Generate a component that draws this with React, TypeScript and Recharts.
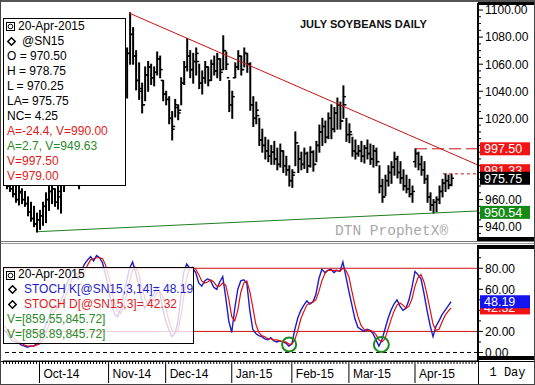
import React from "react";
import {
  Bar,
  ComposedChart,
  Line,
  ReferenceDot,
  ReferenceLine,
  XAxis,
  YAxis,
} from "recharts";

// daily bars, Sep-15-2014 .. Apr-20-2015 (index 0..149)
const HIGH = [
  985, 980, 978, 975, 972, 970, 968, 966, 962, 958, 955, 950, 952, 958, 965, 970, 972, 968, 970, 975,
  985, 995, 1000, 1005, 998, 1002, 1012, 1024, 1036, 1048, 1052, 1060, 1064, 1062, 1056, 1048, 1042, 1046, 1056, 1064,
  1071, 1072, 1098, 1087, 1070, 1061, 1046, 1058, 1062, 1060, 1058, 1069, 1066, 1048, 1040, 1036, 1025, 1034, 1030, 1050,
  1062, 1079, 1070, 1068, 1072, 1060, 1055, 1062, 1058, 1063, 1066, 1068, 1064, 1081, 1069, 1048, 1040, 1061, 1070, 1066,
  1072, 1068, 1061, 1036, 1032, 1020, 1012, 1006, 1004, 1000, 1003, 998, 1001, 996, 992, 985, 982, 1010, 1000, 995,
  998, 995, 999, 996, 1003, 1015, 1020, 1018, 1024, 1030, 1028, 1035, 1032, 1044, 1020, 1016, 1006, 1004, 1000, 1003,
  1000, 1004, 1001, 1000, 998, 985, 975, 978, 985, 988, 995, 992, 988, 982, 978, 975, 970, 997.5, 995, 992,
  988, 978, 965, 960, 962, 970, 975, 979, 978, 978.75,
];
const LOW = [
  972, 968, 966, 962, 958, 956, 957, 955, 948, 944, 940, 936, 938, 941, 943, 952, 957, 955, 953, 950,
  966, 976, 984, 986, 975, 968, 992, 1004, 1016, 1028, 1032, 1040, 1046, 1040, 1032, 1026, 1022, 1024, 1036, 1044,
  1038, 1035, 1060, 1060, 1041, 1034, 1024, 1033, 1040, 1045, 1044, 1052, 1050, 1033, 1030, 1016, 1004, 1021, 1019, 1030,
  1045, 1055, 1050, 1046, 1052, 1042, 1038, 1046, 1044, 1048, 1052, 1050, 1048, 1056, 1056, 1025, 1020, 1050, 1056, 1052,
  1058, 1054, 1026, 1014, 1016, 1000, 995, 990, 988, 986, 986, 982, 984, 980, 978, 970, 969, 985, 980, 982,
  983, 980, 984, 981, 988, 995, 1000, 1002, 1005, 1005, 1010, 1012, 1012, 1020, 1003, 1002, 992, 990, 992, 988,
  987, 990, 986, 984, 985, 965, 958, 963, 970, 972, 978, 976, 972, 967, 965, 962, 958, 984, 982, 978,
  972, 958, 952, 950, 951, 957, 962, 966, 968, 970.25,
];
const OPEN = [
  982, 975, 970, 968, 964, 960, 965, 960, 957, 951, 946, 942, 945, 948, 955, 960, 966, 968, 958, 962,
  972, 982, 990, 996, 990, 980, 996, 1008, 1020, 1032, 1044, 1040, 1056, 1060, 1044, 1036, 1030, 1026, 1040, 1052,
  1060, 1042, 1068, 1082, 1066, 1048, 1042, 1030, 1052, 1058, 1050, 1054, 1064, 1048, 1038, 1034, 1020, 1014, 1028, 1026,
  1046, 1058, 1066, 1056, 1062, 1062, 1046, 1050, 1058, 1048, 1060, 1055, 1064, 1056, 1070, 1050, 1030, 1050, 1058, 1066,
  1056, 1068, 1060, 1030, 1020, 1022, 1004, 1000, 996, 992, 995, 990, 986, 996, 985, 982, 974, 980, 1002, 990,
  986, 994, 985, 995, 986, 1000, 1010, 1014, 1006, 1020, 1012, 1024, 1030, 1018, 1030, 1008, 1008, 996, 994, 996,
  992, 998, 994, 990, 996, 988, 970, 962, 974, 980, 984, 990, 980, 976, 970, 968, 964, 988, 994, 986,
  982, 975, 962, 956, 958, 960, 966, 972, 974, 970.5,
];
const CLOSE = [
  975, 970, 968, 964, 960, 966, 960, 957, 951, 946, 942, 945, 948, 955, 960, 966, 968, 958, 966, 972,
  982, 990, 996, 990, 980, 996, 1008, 1020, 1032, 1044, 1040, 1056, 1060, 1044, 1036, 1030, 1026, 1040, 1052, 1060,
  1042, 1068, 1082, 1066, 1048, 1040, 1030, 1052, 1058, 1050, 1054, 1064, 1056, 1038, 1034, 1020, 1012, 1030, 1024, 1046,
  1058, 1066, 1056, 1062, 1068, 1046, 1050, 1058, 1048, 1060, 1055, 1064, 1054, 1070, 1060, 1030, 1036, 1058, 1066, 1056,
  1068, 1060, 1030, 1020, 1026, 1004, 1000, 996, 992, 995, 990, 986, 996, 985, 982, 974, 978, 1002, 990, 986,
  994, 985, 995, 986, 1000, 1010, 1014, 1006, 1020, 1012, 1024, 1030, 1018, 1036, 1008, 1010, 996, 994, 996, 992,
  998, 994, 990, 996, 988, 970, 962, 974, 980, 984, 990, 980, 976, 970, 968, 964, 966, 994, 986, 982,
  975, 962, 956, 958, 960, 966, 972, 974, 971, 975.75,
];
const STOCH_K = [
  22, 19, 14, 11, 10, 9, 7, 6, 5, 6, 6, 8, 11, 18, 26, 32, 40, 45, 42, 48,
  55, 64, 72, 78, 74, 70, 78, 84, 88, 91, 87, 92, 90, 85, 74, 60, 46, 36, 34, 42,
  56, 68, 80, 86, 76, 64, 50, 42, 46, 52, 55, 62, 58, 42, 30, 22, 15, 18, 28, 52,
  76, 84, 80, 80, 76, 66, 63, 68, 70, 68, 62, 60, 67, 72, 52, 30, 19, 42, 60, 68,
  69, 66, 40, 22, 18, 16, 15, 13, 12, 14, 11, 10, 11, 10, 9, 6, 8, 22, 33, 40,
  45, 49, 46, 48, 55, 70, 79, 76, 78, 79, 76, 78, 77, 86, 72, 58, 45, 32, 24, 22,
  20, 22, 21, 18, 12, 6, 12, 22, 32, 40, 46, 50, 44, 40, 42, 50, 62, 77, 74, 70,
  56, 40, 26, 15, 25, 30, 36, 40, 44, 48.19,
];
const STOCH_D = [
  26, 23, 18, 15, 12, 10, 9, 7, 6, 6, 6, 7, 8, 12, 18, 25, 33, 39, 42, 45,
  48, 56, 64, 71, 75, 74, 74, 77, 83, 88, 89, 90, 90, 89, 83, 73, 60, 47, 39, 37,
  44, 55, 68, 78, 81, 75, 63, 52, 46, 47, 51, 56, 58, 54, 43, 31, 22, 18, 20, 33,
  52, 71, 80, 81, 79, 74, 68, 66, 67, 69, 67, 63, 63, 66, 64, 51, 34, 30, 40, 57,
  66, 68, 58, 43, 27, 19, 16, 15, 13, 13, 12, 12, 11, 10, 10, 8, 8, 12, 21, 32,
  39, 45, 47, 48, 50, 58, 68, 75, 78, 78, 78, 78, 77, 80, 78, 72, 58, 45, 34, 26,
  22, 21, 21, 20, 17, 12, 10, 13, 22, 31, 39, 45, 47, 45, 42, 44, 51, 63, 71, 74,
  67, 55, 41, 27, 21, 22, 29, 35, 39, 42.32,
];

const MONTH_STARTS = [12, 35, 54, 76, 96, 115, 137];
const MONTH_LABELS = ["Oct-14", "Nov-14", "Dec-14", "Jan-15", "Feb-15", "Mar-15", "Apr-15"];

// labelled axis values (the ones hidden behind flags in the original are left unlabelled)
const PRICE_LABELLED = [940, 960, 1020, 1040, 1060, 1080, 1100];
const PRICE_MARKS = [980, 1000];
const PRICE_FLAGS = [997.5, 950.54, 981.33, 975.75];
const STOCH_LABELLED = [0, 20, 60, 80];
const STOCH_MARKS = [40];
const STOCH_FLAGS = [42.32, 48.19];

const PRICE_LEGEND = ["O = 970.50", "H = 978.75", "L = 970.25", "LA= 975.75", "NC= 4.25"];
const PRICE_NOTES = [
  { text: "A=-24.4, V=990.00", tone: "red" },
  { text: "A=2.7, V=949.63", tone: "green" },
  { text: "V=997.50", tone: "red" },
  { text: "V=979.00", tone: "red" },
];

const RED = "#e01b1b";
const GREEN = "#2a8a2a";
const BLUE = "#1c1cc8";
const FONT = 'Arial, "Liberation Sans", sans-serif';
const MONO = '"Courier New", "Liberation Mono", monospace';

const X_DOMAIN: [number, number] = [-0.15, 157.97];
const AXIS_X = 478;

const days = HIGH.map((h, i) => ({
  i,
  high: h,
  low: LOW[i],
  open: OPEN[i],
  close: CLOSE[i],
  k: STOCH_K[i],
  d: STOCH_D[i],
}));

const priceTicks: number[] = [];
for (let v = 930; v <= 1105; v += 5) {
  if (!PRICE_LABELLED.includes(v) && !PRICE_MARKS.includes(v)) priceTicks.push(v);
}
priceTicks.push(...PRICE_MARKS, ...PRICE_LABELLED, ...PRICE_FLAGS);
const PRICE_MAJOR = [...PRICE_LABELLED, ...PRICE_MARKS];

const stochTicks: number[] = [10, 30, 50, 70, 90, 100, ...STOCH_MARKS, ...STOCH_LABELLED, ...STOCH_FLAGS];
const STOCH_MAJOR = [...STOCH_LABELLED, ...STOCH_MARKS];
const dayTicks: number[] = [];
for (let i = 0; i <= 157; i++) dayTicks.push(i);

const flagColor: Record<string, { bg: string; fg: string }> = {
  "997.5": { bg: "#f21414", fg: "#fff" },
  "981.33": { bg: "#f21414", fg: "#fff" },
  "975.75": { bg: "#000", fg: "#fff" },
  "950.54": { bg: "#168a16", fg: "#fff" },
  "42.32": { bg: "#f21414", fg: "#fff" },
  "48.19": { bg: "#1414f0", fg: "#fff" },
};

function OhlcShape(props: any) {
  const { x, y, width, height, payload } = props;
  if (x == null || y == null) return null;
  const cx = x + width / 2;
  const top = Math.min(y, y + height);
  const bot = Math.max(y, y + height);
  const span = payload.high - payload.low || 1;
  const at = (v: number) => top + ((payload.high - v) / span) * (bot - top);
  return (
    <g stroke="#000">
      <line x1={cx} x2={cx} y1={top - 0.5} y2={bot + 0.5} strokeWidth={2} />
      <line x1={cx - 2.5} x2={cx} y1={at(payload.open)} y2={at(payload.open)} strokeWidth={1.5} />
      <line x1={cx} x2={cx + 2.5} y1={at(payload.close)} y2={at(payload.close)} strokeWidth={1.5} />
    </g>
  );
}

function AxisTick({ y, payload, major, labelled }: any) {
  const v = payload.value as number;
  const flag = flagColor[String(v)];
  if (flag) {
    return (
      <g>
        <rect x={480} y={y - 6.5} width={50} height={13} fill={flag.bg} />
        <text x={484} y={y} dy="0.36em" fill={flag.fg} fontSize={12.5} fontFamily={FONT}>
          {v.toFixed(2)}
        </text>
      </g>
    );
  }
  const isMajor = major.includes(v);
  return (
    <g>
      <line x1={AXIS_X} x2={AXIS_X + (isMajor ? 5 : 3)} y1={y} y2={y} stroke="#000" />
      {labelled.includes(v) && (
        <text x={485} y={y} dy="0.36em" fill="#000" fontSize={12} fontFamily={FONT}>
          {v.toFixed(2)}
        </text>
      )}
    </g>
  );
}

function DateTick({ x, payload }: any) {
  const v = payload.value as number;
  const m = MONTH_STARTS.indexOf(v);
  if (m < 0) return <line x1={x} x2={x} y1={118} y2={121} stroke="#000" />;
  return (
    <g>
      <line x1={x} x2={x} y1={118} y2={140} stroke="#000" />
      <text x={x + 4} y={135} fill="#000" fontSize={12} fontFamily={FONT}>
        {MONTH_LABELS[m]}
      </text>
    </g>
  );
}

function Icon() {
  return (
    <svg width={9} height={9} style={{ position: "absolute", left: 2, top: 3 }}>
      <rect x={0.5} y={0.5} width={8} height={8} fill="#fff" stroke="#000" />
      <circle cx={4.5} cy={4.5} r={2.3} fill="none" stroke="#000" />
    </svg>
  );
}

function Diamond({ left, top }: { left: number; top: number }) {
  return (
    <svg width={9} height={9} style={{ position: "absolute", left, top }}>
      <polygon points="4.5,0.8 8.2,4.5 4.5,8.2 0.8,4.5" fill="#fff" stroke="#000" strokeWidth={1.5} />
    </svg>
  );
}

function Row({ top, left, color = "#000", children }: any) {
  return (
    <div
      style={{
        position: "absolute",
        top,
        left,
        height: 15,
        lineHeight: "15px",
        fontSize: 12,
        color,
        whiteSpace: "nowrap",
      }}
    >
      {children}
    </div>
  );
}

const abs = (s: React.CSSProperties): React.CSSProperties => ({ position: "absolute", ...s });

export default function App() {
  return (
    <div style={{ position: "relative", width: 535, height: 385, background: "#fff", overflow: "hidden", fontFamily: FONT }}>
      <style>{"body{margin:0}"}</style>

      <div style={abs({ left: 0, top: 0 })}>
        <ComposedChart width={535} height={241} data={days} margin={{ top: 3, right: 0, left: 3, bottom: 0 }}>
          <XAxis dataKey="i" type="number" domain={X_DOMAIN} hide allowDataOverflow />
          <YAxis
            orientation="right"
            type="number"
            width={57}
            domain={[929.4, 1105.2]}
            allowDataOverflow
            ticks={priceTicks}
            interval={0}
            tickLine={false}
            axisLine={{ stroke: "#000", strokeWidth: 2 }}
            tick={(p: any) => <AxisTick {...p} major={PRICE_MAJOR} labelled={PRICE_LABELLED} />}
          />
          <ReferenceLine segment={[{ x: 41.8, y: 1097.8 }, { x: 157.97, y: 985.5 }]} stroke="#cc1111" />
          <ReferenceLine segment={[{ x: 11.5, y: 936.3 }, { x: 157.97, y: 951.6 }]} stroke="#1d7f1d" />
          <ReferenceLine
            segment={[{ x: 137, y: 997.5 }, { x: 157.97, y: 997.5 }]}
            stroke="#cc1111"
            strokeDasharray="12 5"
          />
          <ReferenceLine
            segment={[{ x: 146.3, y: 979 }, { x: 157.97, y: 979 }]}
            stroke="#cc1111"
            strokeDasharray="3 3"
          />
          <Bar
            dataKey={(d: any) => [d.low, d.high]}
            barSize={2}
            shape={OhlcShape}
            isAnimationActive={false}
          />
        </ComposedChart>
      </div>

      <div style={abs({ left: 0, top: 243 })}>
        <ComposedChart width={535} height={142} data={days} margin={{ top: 2, right: 0, left: 3, bottom: 0 }}>
          <XAxis
            dataKey="i"
            type="number"
            domain={X_DOMAIN}
            allowDataOverflow
            ticks={dayTicks}
            interval={0}
            height={24}
            tickLine={false}
            axisLine={{ stroke: "#000" }}
            tick={(p: any) => <DateTick {...p} />}
          />
          <YAxis
            orientation="right"
            type="number"
            width={57}
            domain={[-8.1, 102.1]}
            allowDataOverflow
            ticks={stochTicks}
            interval={0}
            tickLine={false}
            axisLine={{ stroke: "#000", strokeWidth: 2 }}
            tick={(p: any) => <AxisTick {...p} major={STOCH_MAJOR} labelled={STOCH_LABELLED} />}
          />
          <ReferenceLine y={80} stroke="#cc1111" />
          <ReferenceLine y={20} stroke="#cc1111" />
          <ReferenceLine y={0} stroke="#000" strokeDasharray="4 3" />
          <Line dataKey="k" type="linear" stroke={BLUE} strokeWidth={1.4} dot={false} isAnimationActive={false} />
          <Line dataKey="d" type="linear" stroke="#e01010" strokeWidth={1.2} dot={false} isAnimationActive={false} />
          <ReferenceDot x={95.1} y={7.6} r={7} fill="none" stroke="#1d8a1d" strokeWidth={2} />
          <ReferenceDot x={125.8} y={7.6} r={7.5} fill="none" stroke="#1d8a1d" strokeWidth={2} />
        </ComposedChart>
      </div>

      {/* title and watermark */}
      <div style={abs({ left: 300, top: 17, fontSize: 11, fontWeight: "bold", color: "#111", lineHeight: "14px" })}>
        JULY SOYBEANS DAILY
      </div>
      <div style={abs({ left: 335, top: 223, fontSize: 14.5, fontFamily: MONO, color: "#a8a8a8", lineHeight: "16px" })}>
        DTN ProphetX®
      </div>

      {/* price legend */}
      <div style={abs({ left: 3, top: 18, width: 121, height: 166, border: "1px solid #000", background: "#fff" })}>
        <Icon />
        <Row top={0} left={14}>20-Apr-2015</Row>
        <Diamond left={3} top={18} />
        <Row top={15} left={18}>@SN15</Row>
        {PRICE_LEGEND.map((t, k) => (
          <Row key={t} top={30 + k * 15} left={3}>
            {t}
          </Row>
        ))}
        {PRICE_NOTES.map((n, k) => (
          <Row key={n.text} top={105 + k * 15} left={3} color={n.tone === "red" ? RED : GREEN}>
            {n.text}
          </Row>
        ))}
      </div>

      {/* stochastic legend */}
      <div
        style={abs({
          left: 3,
          top: 267,
          width: 189,
          height: 75,
          border: "1px solid #000",
          background: "rgba(255,255,255,0.8)",
        })}
      >
        <Icon />
        <Row top={-1} left={14}>20-Apr-2015</Row>
        <Diamond left={4} top={17} />
        <Row top={14} left={20} color={BLUE}>STOCH K[@SN15,3,14]= 48.19</Row>
        <Diamond left={4} top={32} />
        <Row top={29} left={20} color={RED}>STOCH D[@SN15,3]= 42.32</Row>
        <Row top={44} left={3} color={GREEN}>V=[859.55,845.72]</Row>
        <Row top={59} left={3} color={GREEN}>V=[858.89,845.72]</Row>
      </div>

      {/* panel separators and right-column bars */}
      <div style={abs({ left: 0, top: 241, width: 535, height: 1, background: "#777" })} />
      <div style={abs({ left: 0, top: 243, width: 535, height: 1, background: "#999" })} />
      <div style={abs({ left: 478, top: 0, width: 57, height: 5, background: "#000" })} />
      <div style={abs({ left: 478, top: 237, width: 57, height: 4, background: "#000" })} />
      <div style={abs({ left: 478, top: 245, width: 57, height: 4, background: "#000" })} />
      <div style={abs({ left: 478, top: 356, width: 57, height: 4, background: "#000" })} />
      <div style={abs({ left: 0, top: 361, width: 535, height: 1, background: "#000" })} />
      <div
        style={abs({
          left: 478,
          top: 361,
          width: 57,
          height: 24,
          borderLeft: "1px solid #000",
          fontFamily: MONO,
          fontSize: 12,
          lineHeight: "24px",
          textAlign: "center",
          color: "#000",
        })}
      >
        1 Day
      </div>
      <div style={abs({ left: 0, top: 0, width: 535, height: 385, boxSizing: "border-box", border: "1px solid #444", borderTop: "2px solid #555" })} />
    </div>
  );
}
